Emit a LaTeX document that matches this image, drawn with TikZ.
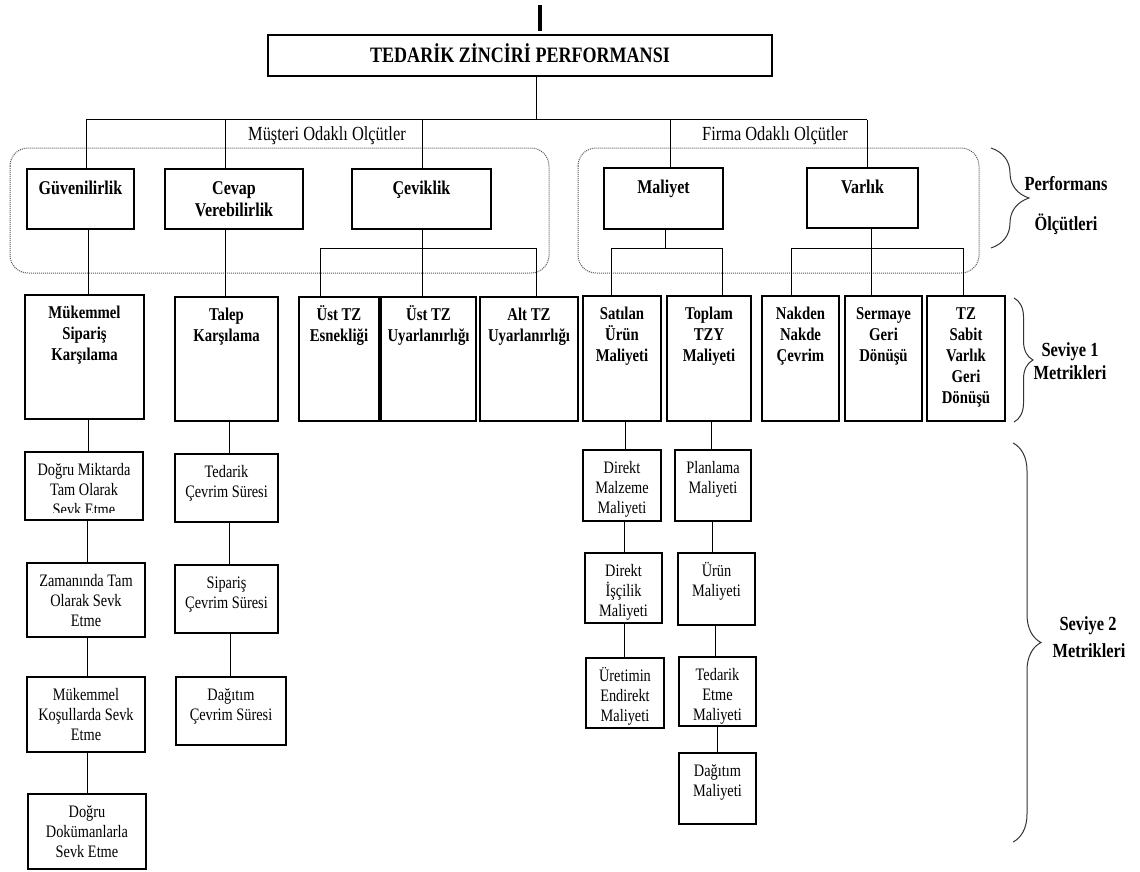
\documentclass[tikz,border=0pt]{standalone}
\usepackage{fontspec}
\setmainfont{Liberation Serif}[FakeStretch=0.82]
\usetikzlibrary{fit,calc,decorations.pathreplacing}
\tikzset{
  box/.style={draw, line width=1.2pt, inner sep=0pt},
  conn/.style={line width=1pt},
  lvA/.style={font=\bfseries\fontsize{19.5}{22}\selectfont, align=center, inner sep=0pt, yshift=-6.5pt},
  lvB/.style={font=\bfseries\fontsize{18}{21}\selectfont, align=center, inner sep=0pt, yshift=-6pt},
  lvC/.style={font=\fontsize{17.5}{20}\selectfont, align=center, inner sep=0pt, yshift=-6pt},
  grp/.style={draw=black!65, line width=1pt, dash pattern=on 1pt off 1pt, rounded corners=18pt},
  brc/.style={decorate, line width=1pt, draw=black!80},
  side/.style={font=\bfseries\fontsize{20}{24}\selectfont, inner sep=0pt, anchor=base},
  cat/.style={font=\fontsize{20}{24}\selectfont, inner sep=0pt, anchor=base},
  ttl/.style={font=\bfseries\fontsize{22}{26}\selectfont, inner sep=0pt, anchor=base},
}
\newcommand\mybox[7]{%
  \node[box, fit={(#2,#3) (#4,#5)}] (#1) {};
  \node[#6, anchor=north] (#1t) at (#1.north) {\rule{0pt}{1em}#7};}
\newcommand\vlink[3]{%
  \coordinate (tmp) at (#3,0);
  \draw[conn] (#1.south -| tmp) -- (#2.north -| tmp);}
\begin{document}
\begin{tikzpicture}[x=1pt, y=-1pt]
\useasboundingbox (0,0) rectangle (1140,872);
\fill[white] (0,0) rectangle (1140,872);

% stray mark at top
\draw[line width=3.5pt] (540,5) -- (540,31);

% title
\node[box, fit={(268,35) (772,76)}] (title) {};
\node[ttl] (titlet) at ($(title.south)+(0,-14)$) {TEDARİK ZİNCİRİ PERFORMANSI};

% group frames
\draw[grp] (10,148) rectangle (549,273);
\draw[grp] (578,148) rectangle (979,273);

% category labels
\node[cat] (mus) at (327,140) {Müşteri Odaklı Olçütler};
\node[cat] (firma) at (775,140) {Firma Odaklı Olçütler};

% performance measures
\mybox{gv}{27}{169}{134}{229}{lvA}{Güvenilirlik}
\mybox{cv}{165}{169}{303}{229}{lvA}{Cevap\\Verebilirlik}
\mybox{ck}{352}{169}{491}{229}{lvA}{Çeviklik}
\mybox{ml}{604}{168}{723}{229}{lvA}{Maliyet}
\mybox{vr}{807}{168}{918}{228}{lvA}{Varlık}

% level 1 metrics
\mybox{msk}{25}{295}{144}{419}{lvB}{Mükemmel\\Sipariş\\Karşılama}
\mybox{tk}{175}{297}{278}{421}{lvB}{Talep\\Karşılama}
\mybox{ue}{299}{297}{379}{421}{lvB}{Üst TZ\\Esnekliği}
\mybox{uu}{381}{297}{476}{421}{lvB}{Üst TZ\\Uyarlanırlığı}
\mybox{au}{480}{297}{578}{421}{lvB}{Alt TZ\\Uyarlanırlığı}
\mybox{su}{583}{296}{661}{421}{lvB}{Satılan\\Ürün\\Maliyeti}
\mybox{tt}{667}{296}{751}{421}{lvB}{Toplam\\TZY\\Maliyeti}
\mybox{nn}{762}{296}{839}{421}{lvB}{Nakden\\Nakde\\Çevrim}
\mybox{sg}{845}{296}{922}{421}{lvB}{Sermaye\\Geri\\Dönüşü}
\mybox{tz}{927}{296}{1005}{421}{lvB}{TZ\\Sabit\\Varlık\\Geri\\Dönüşü}

% level 2 metrics
\node[box, fit={(25,452) (143,520)}] (d1) {};
\begin{scope}
\clip (25,452) rectangle (143,512);
\node[lvC, anchor=north] (d1t) at (d1.north) {\rule{0pt}{1em}Doğru Miktarda\\Tam Olarak\\Sevk Etme};
\end{scope}
\mybox{d2}{27}{563}{145}{637}{lvC}{Zamanında Tam\\Olarak Sevk\\Etme}
\mybox{d3}{27}{677}{145}{752}{lvC}{Mükemmel\\Koşullarda Sevk\\Etme}
\mybox{d4}{28}{794}{146}{869}{lvC}{Doğru\\Dokümanlarla\\Sevk Etme}
\mybox{t1}{175}{454}{278}{522}{lvC}{Tedarik\\Çevrim Süresi}
\mybox{t2}{175}{565}{278}{633}{lvC}{Sipariş\\Çevrim Süresi}
\mybox{t3}{176}{677}{286}{745}{lvC}{Dağıtım\\Çevrim Süresi}
\mybox{s1}{583}{450}{661}{521}{lvC}{Direkt\\Malzeme\\Maliyeti}
\mybox{s2}{585}{553}{662}{623}{lvC}{Direkt\\İşçilik\\Maliyeti}
\mybox{s3}{586}{658}{664}{728}{lvC}{Üretimin\\Endirekt\\Maliyeti}
\mybox{p1}{675}{450}{751}{521}{lvC}{Planlama\\Maliyeti}
\mybox{p2}{678}{553}{755}{625}{lvC}{Ürün\\Maliyeti}
\mybox{p3}{679}{657}{756}{726}{lvC}{Tedarik\\Etme\\Maliyeti}
\mybox{p4}{679}{753}{756}{824}{lvC}{Dağıtım\\Maliyeti}

% top bus
\coordinate (hub) at (536,120);
\coordinate (b1) at (86,120);
\coordinate (b2) at (225,120);
\coordinate (b3) at (422,120);
\coordinate (b4) at (670,120);
\coordinate (b5) at (867,120);
\draw[conn] (title.south -| hub) -- (hub);
\draw[conn] (b1) -- (b5);
\draw[conn] (b1) -- (b1 |- gv.north);
\draw[conn] (b2) -- (b2 |- cv.north);
\draw[conn] (b3) -- (b3 |- ck.north);
\draw[conn] (b4) -- (b4 |- ml.north);
\draw[conn] (b5) -- (b5 |- vr.north);

% performance -> level 1
\vlink{gv}{msk}{88}
\vlink{cv}{tk}{225}
\coordinate (ckb) at (422,248);
\coordinate (ckl) at (320,248);
\coordinate (ckr) at (536,248);
\draw[conn] (ck.south -| ckb) -- (ckb);
\draw[conn] (ckl) -- (ckr);
\draw[conn] (ckl) -- (ckl |- ue.north);
\draw[conn] (ckb) -- (ckb |- uu.north);
\draw[conn] (ckr) -- (ckr |- au.north);
\coordinate (mlb) at (665,248);
\coordinate (mll) at (611,248);
\coordinate (mlr) at (722,248);
\draw[conn] (ml.south -| mlb) -- (mlb);
\draw[conn] (mll) -- (mlr);
\draw[conn] (mll) -- (mll |- su.north);
\draw[conn] (mlr) -- (mlr |- tt.north);
\coordinate (vrb) at (871,248);
\coordinate (vrl) at (791,248);
\coordinate (vrr) at (963,248);
\draw[conn] (vr.south -| vrb) -- (vrb);
\draw[conn] (vrl) -- (vrr);
\draw[conn] (vrl) -- (vrl |- nn.north);
\draw[conn] (vrb) -- (vrb |- sg.north);
\draw[conn] (vrr) -- (vrr |- tz.north);

% level 1 -> level 2 chains
\vlink{msk}{d1}{88}
\vlink{d1}{d2}{87}
\vlink{d2}{d3}{87}
\vlink{d3}{d4}{87}
\vlink{tk}{t1}{229}
\vlink{t1}{t2}{229}
\vlink{t2}{t3}{230}
\vlink{su}{s1}{625}
\vlink{s1}{s2}{624}
\vlink{s2}{s3}{624}
\vlink{tt}{p1}{711}
\vlink{p1}{p2}{712}
\vlink{p2}{p3}{715}
\vlink{p3}{p4}{717}

% braces
\draw[brc, decoration={brace, amplitude=38pt}] (991,148) -- (991,248);
\draw[brc, decoration={brace, amplitude=19pt}] (1014,298) -- (1014,422);
\draw[brc, decoration={brace, amplitude=28pt}] (1013,443) -- (1013,842);
\node[side] (perf1) at (1066,190) {Performans};
\node[side] (perf2) at (1066,230) {Ölçütleri};
\node[side] (sv1a) at (1070,356) {Seviye 1};
\node[side] (sv1b) at (1070,379) {Metrikleri};
\node[side] (sv2a) at (1088,630) {Seviye 2};
\node[side] (sv2b) at (1089,657) {Metrikleri};
\end{tikzpicture}
\end{document}
